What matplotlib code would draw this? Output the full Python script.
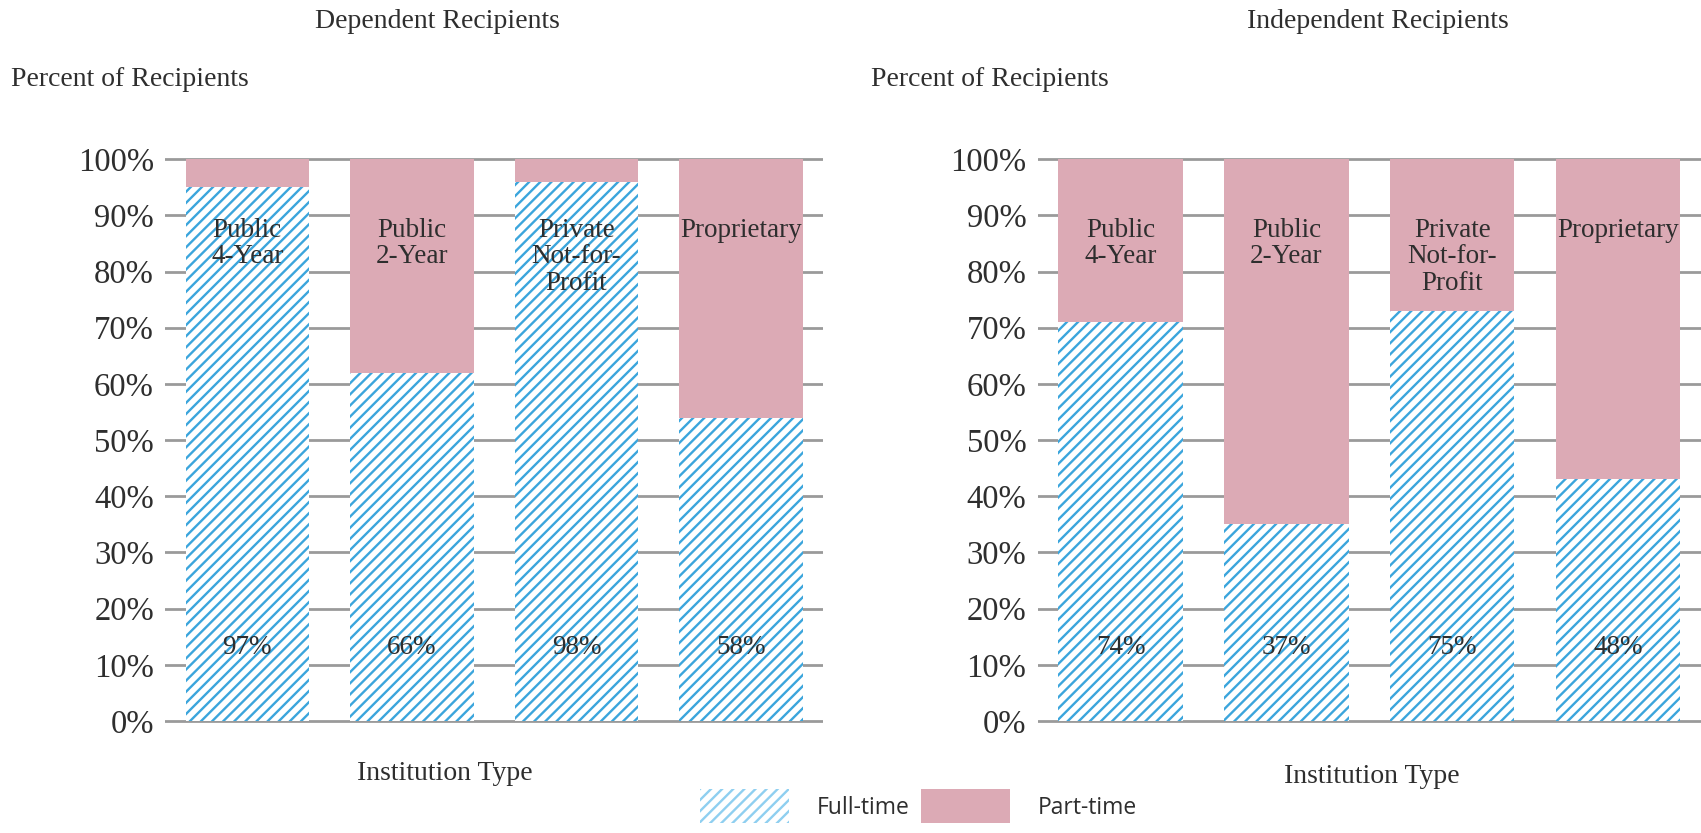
import matplotlib
matplotlib.use("Agg")
import matplotlib.pyplot as plt
from matplotlib.patches import Patch

# institution types (labels drawn inside the bars)
categories = ["Public\n4-Year", "Public\n2-Year", "Private\nNot-for-\nProfit", "Proprietary"]

# full-time share as drawn (bar heights) and the printed labels
dep_full = [95, 62, 96, 54]
dep_labels = ["97%", "66%", "98%", "58%"]
ind_full = [71, 35, 73, 43]
ind_labels = ["74%", "37%", "75%", "48%"]

yticks = [0, 10, 20, 30, 40, 50, 60, 70, 80, 90, 100]

blue = "#3ba5dc"
pink = "#dcaab5"
grid = "#9a9a9a"
txt = "#2e2e2e"

plt.rcParams["hatch.linewidth"] = 1.7
serif = "Liberation Serif"

fig = plt.figure(figsize=(17.01, 8.33), dpi=100)


def panel(rect, full, labels):
    ax = fig.add_axes(rect)
    x = range(len(full))
    part = [100 - v for v in full]
    ax.bar(x, full, width=0.75, color="white", edgecolor=blue, hatch="///",
           linewidth=0, zorder=2)
    ax.bar(x, part, bottom=full, width=0.75, color=pink, linewidth=0, zorder=2)
    for i in x:
        ax.text(i, 89.6, categories[i], ha="center", va="top", fontsize=19.5,
                family=serif, color=txt, linespacing=1.1, zorder=3)
        ax.text(i, 13, labels[i], ha="center", va="center", fontsize=19.5,
                family=serif, color=txt, zorder=3)
    ax.set_xlim(-0.5, 3.5)
    ax.set_ylim(-1, 101)
    ax.set_yticks(yticks)
    ax.set_yticklabels([f"{t}%" for t in yticks], family=serif, fontsize=23.5,
                       color=txt)
    ax.set_xticks([])
    ax.tick_params(axis="y", length=0, pad=8)
    for t in yticks:
        ax.axhline(t, color=grid, linewidth=2, zorder=1)
    for s in ax.spines.values():
        s.set_visible(False)
    return ax


panel([0.097, 0.1277, 0.387, 0.688], dep_full, dep_labels)
panel([0.610, 0.1277, 0.390, 0.688], ind_full, ind_labels)

fig.text(0.257, 0.974, "Dependent Recipients", ha="center", va="center",
         fontsize=20, family=serif, color=txt)
fig.text(0.810, 0.974, "Independent Recipients", ha="center", va="center",
         fontsize=20, family=serif, color=txt)
fig.text(0.0065, 0.905, "Percent of Recipients", ha="left", va="center",
         fontsize=20, family=serif, color=txt)
fig.text(0.512, 0.905, "Percent of Recipients", ha="left", va="center",
         fontsize=20, family=serif, color=txt)
fig.text(0.2616, 0.072, "Institution Type", ha="center", va="center",
         fontsize=20, family=serif, color=txt)
fig.text(0.8066, 0.068, "Institution Type", ha="center", va="center",
         fontsize=20, family=serif, color=txt)

handles = [Patch(facecolor="white", edgecolor="#8fcff0", hatch="///", linewidth=0,
                 label="Full-time"),
           Patch(facecolor=pink, linewidth=0, label="Part-time")]
fig.legend(handles=handles, loc="center", bbox_to_anchor=(0.540, 0.032), ncol=2,
           frameon=False, prop={"family": "Open Sans", "size": 16.5},
           handlelength=3.9, handleheight=1.9, handletextpad=1.2,
           columnspacing=0.5, labelcolor=txt)

fig.savefig("out.png", dpi=100)
